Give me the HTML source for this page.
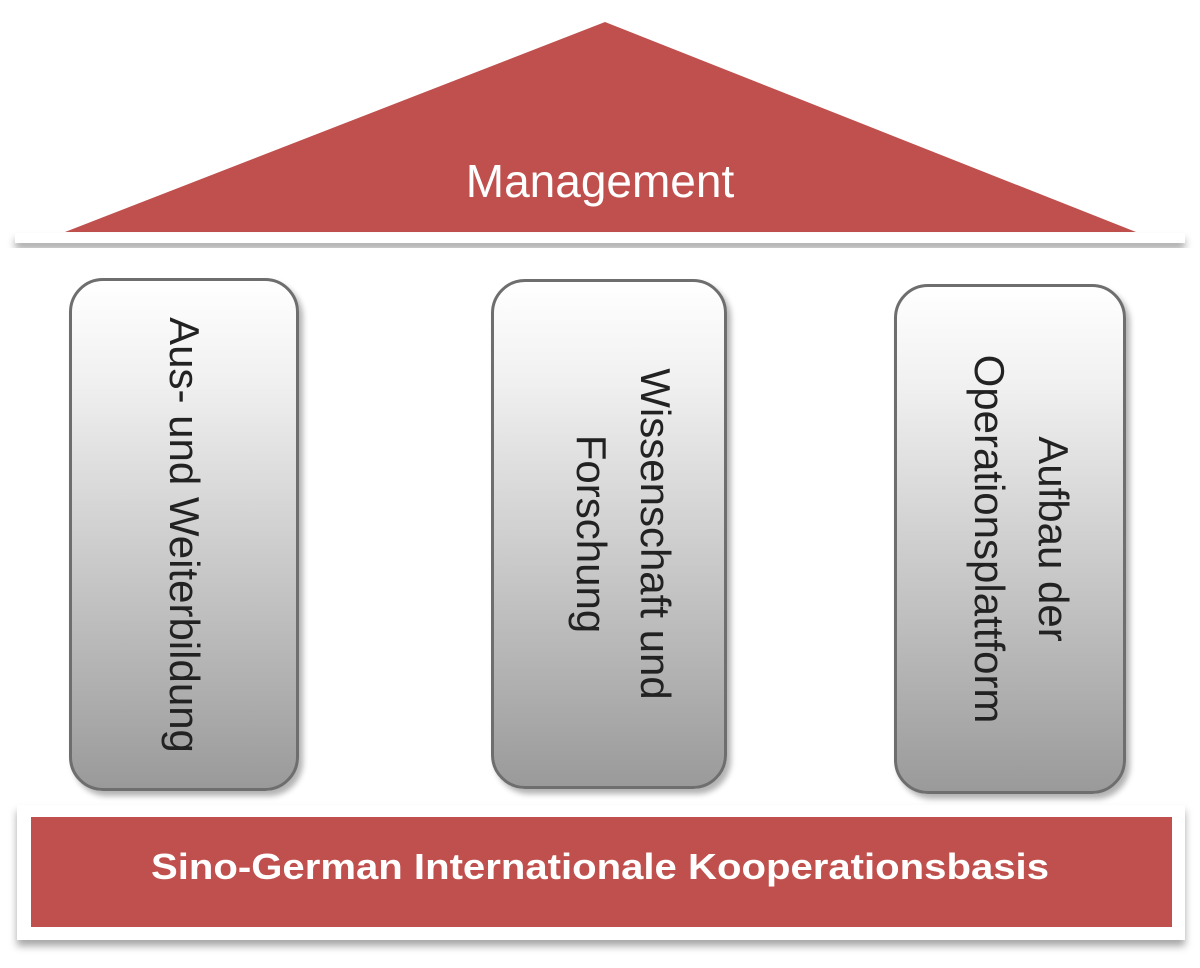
<!DOCTYPE html>
<html><head><style>
body{margin:0;width:1200px;height:968px;background:#fff;position:relative;overflow:hidden;font-family:"Liberation Sans",sans-serif}
.p{position:absolute;border:3px solid #6e6e6e;border-radius:34px;background:linear-gradient(#fff,#f0f0f0 20%,#9a9a9a);box-shadow:4px 5px 6px rgba(0,0,0,.3);box-sizing:border-box}
.t{position:absolute;left:50%;top:50%;transform:translate(-50%,-50%) rotate(90deg);white-space:nowrap;font-size:42px;color:#222;line-height:64px;text-align:center}
</style></head><body>
<svg width="1200" height="968" style="position:absolute;left:0;top:0">
<defs><filter id="s" x="-5%" y="-50%" width="110%" height="200%"><feDropShadow dx="0" dy="6" stdDeviation="4" flood-color="#000" flood-opacity=".35"/></filter></defs>
<polygon points="605,22 65,232 1136,232" fill="#c0504d"/>
<rect x="15" y="233" width="1170" height="10" fill="#fff" filter="url(#s)"/>
<rect x="17" y="805" width="1168" height="135" fill="#fff" filter="url(#s)"/>
<rect x="31" y="817" width="1141" height="110" fill="#c0504d"/>
<text x="600" y="197" font-size="46" fill="#fff" text-anchor="middle" font-family="Liberation Sans, sans-serif">Management</text>
<text x="600" y="879" font-size="36" font-weight="bold" fill="#fff" text-anchor="middle" textLength="898" lengthAdjust="spacingAndGlyphs" font-family="Liberation Sans, sans-serif">Sino-German Internationale Kooperationsbasis</text>
</svg>
<div class="p" style="left:69px;top:278px;width:230px;height:513px"><div class="t">Aus- und Weiterbildung</div></div>
<div class="p" style="left:491px;top:279px;width:236px;height:510px"><div class="t" style="left:56%">Wissenschaft und<br>Forschung</div></div>
<div class="p" style="left:894px;top:284px;width:232px;height:510px"><div class="t" style="left:55%">Aufbau der<br>Operationsplattform</div></div>
</body></html>
